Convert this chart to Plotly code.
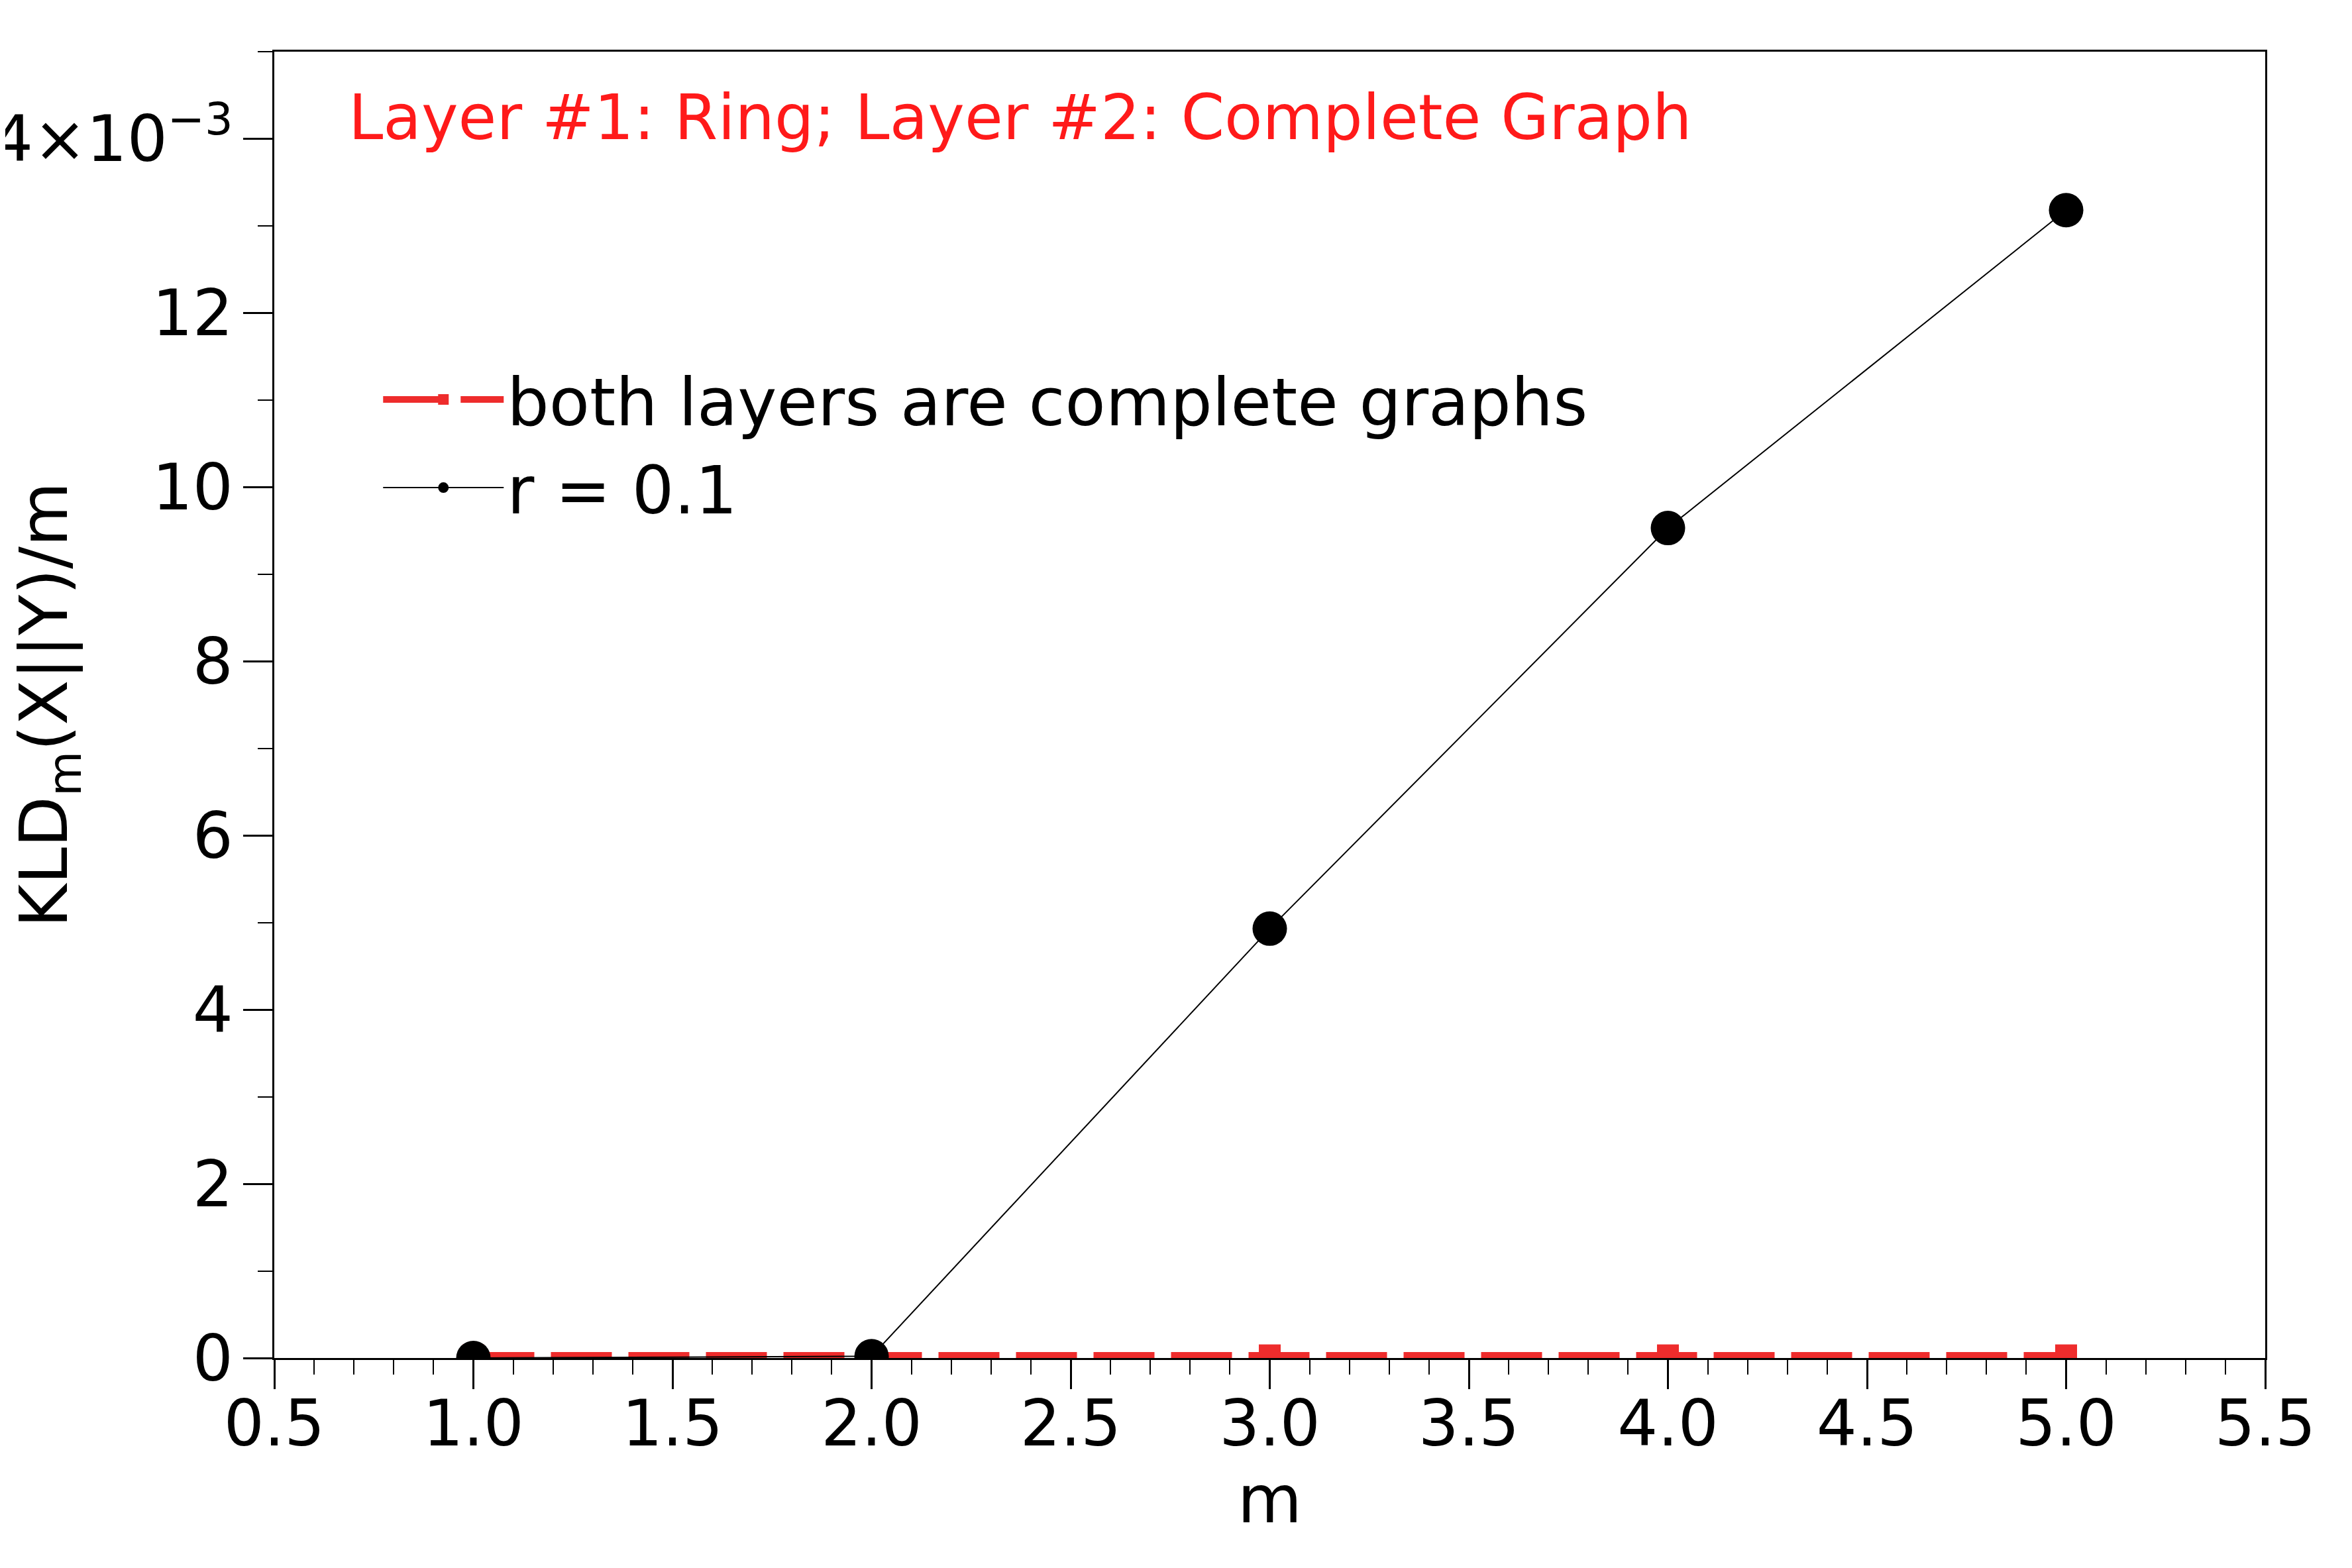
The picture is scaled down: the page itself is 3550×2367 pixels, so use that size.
"""KLD_m(X||Y)/m versus m for a two-layer network (ring + complete graph)."""

import plotly.graph_objects as go

# m values on the x axis
m_values = [1, 2, 3, 4, 5]

# KLD_m(X||Y)/m, in units of 1e-3
kld_complete = [0.03, 0.03, 0.03, 0.03, 0.03]
kld_r01 = [0.0, 0.02, 4.93, 9.53, 13.18]

series_names = ["both layers are complete graphs", "r = 0.1"]
panel_label = "Layer #1: Ring; Layer #2: Complete Graph"

y_tickvals = [0, 2, 4, 6, 8, 10, 12, 14]
y_ticktext = ["0", "2", "4", "6", "8", "10", "12", "14×10<sup>−3</sup>"]

FONT = "DejaVu Sans"
RED = "#EE2C2C"

fig = go.Figure()

fig.add_trace(
    go.Scatter(
        x=m_values,
        y=kld_complete,
        mode="lines+markers",
        name=series_names[0],
        line=dict(color=RED, width=10, dash="92px,25px"),
        marker=dict(symbol="square", size=33, color=RED),
    )
)

fig.add_trace(
    go.Scatter(
        x=m_values,
        y=kld_r01,
        mode="lines+markers",
        name=series_names[1],
        line=dict(color="black", width=2),
        marker=dict(symbol="circle", size=52, color="black"),
    )
)

axis_common = dict(
    showline=True,
    linecolor="black",
    linewidth=3,
    mirror=True,
    ticks="outside",
    ticklen=44,
    tickwidth=3,
    tickcolor="black",
    showgrid=False,
    zeroline=False,
    tickfont=dict(family=FONT, size=96, color="black"),
)

fig.update_layout(
    width=3550,
    height=2367,
    margin=dict(l=406, r=139, t=70, b=325),
    paper_bgcolor="white",
    plot_bgcolor="white",
    font=dict(family=FONT, color="black"),
    xaxis=dict(
        range=[0.5, 5.5],
        dtick=0.5,
        tick0=0.5,
        tickformat=".1f",
        ticklabelstandoff=-30,
        minor=dict(dtick=0.1, ticks="outside", ticklen=22, tickwidth=2,
                   tickcolor="black"),
        title=dict(text="m", font=dict(family=FONT, size=100), standoff=10),
        automargin=False,
        **axis_common,
    ),
    yaxis=dict(
        range=[0, 15],
        tickvals=y_tickvals,
        ticktext=y_ticktext,
        ticklabelstandoff=-4,
        minor=dict(dtick=1, ticks="outside", ticklen=22, tickwidth=2,
                   tickcolor="black"),
        title=dict(text="KLD<sub>m</sub>(X||Y)/m",
                   font=dict(family=FONT, size=100), standoff=94),
        automargin=False,
        **axis_common,
    ),
    legend=dict(
        x=0.053,
        y=0.770,
        xanchor="left",
        yanchor="top",
        bgcolor="rgba(0,0,0,0)",
        font=dict(family=FONT, size=100, color="black"),
        itemwidth=182,
    ),
    annotations=[
        dict(
            text=panel_label,
            x=0.0367,
            y=0.978,
            xref="paper",
            yref="paper",
            xanchor="left",
            yanchor="top",
            showarrow=False,
            font=dict(family=FONT, size=94, color="#FF1A1A"),
        )
    ],
)

fig.write_html("out.html")
